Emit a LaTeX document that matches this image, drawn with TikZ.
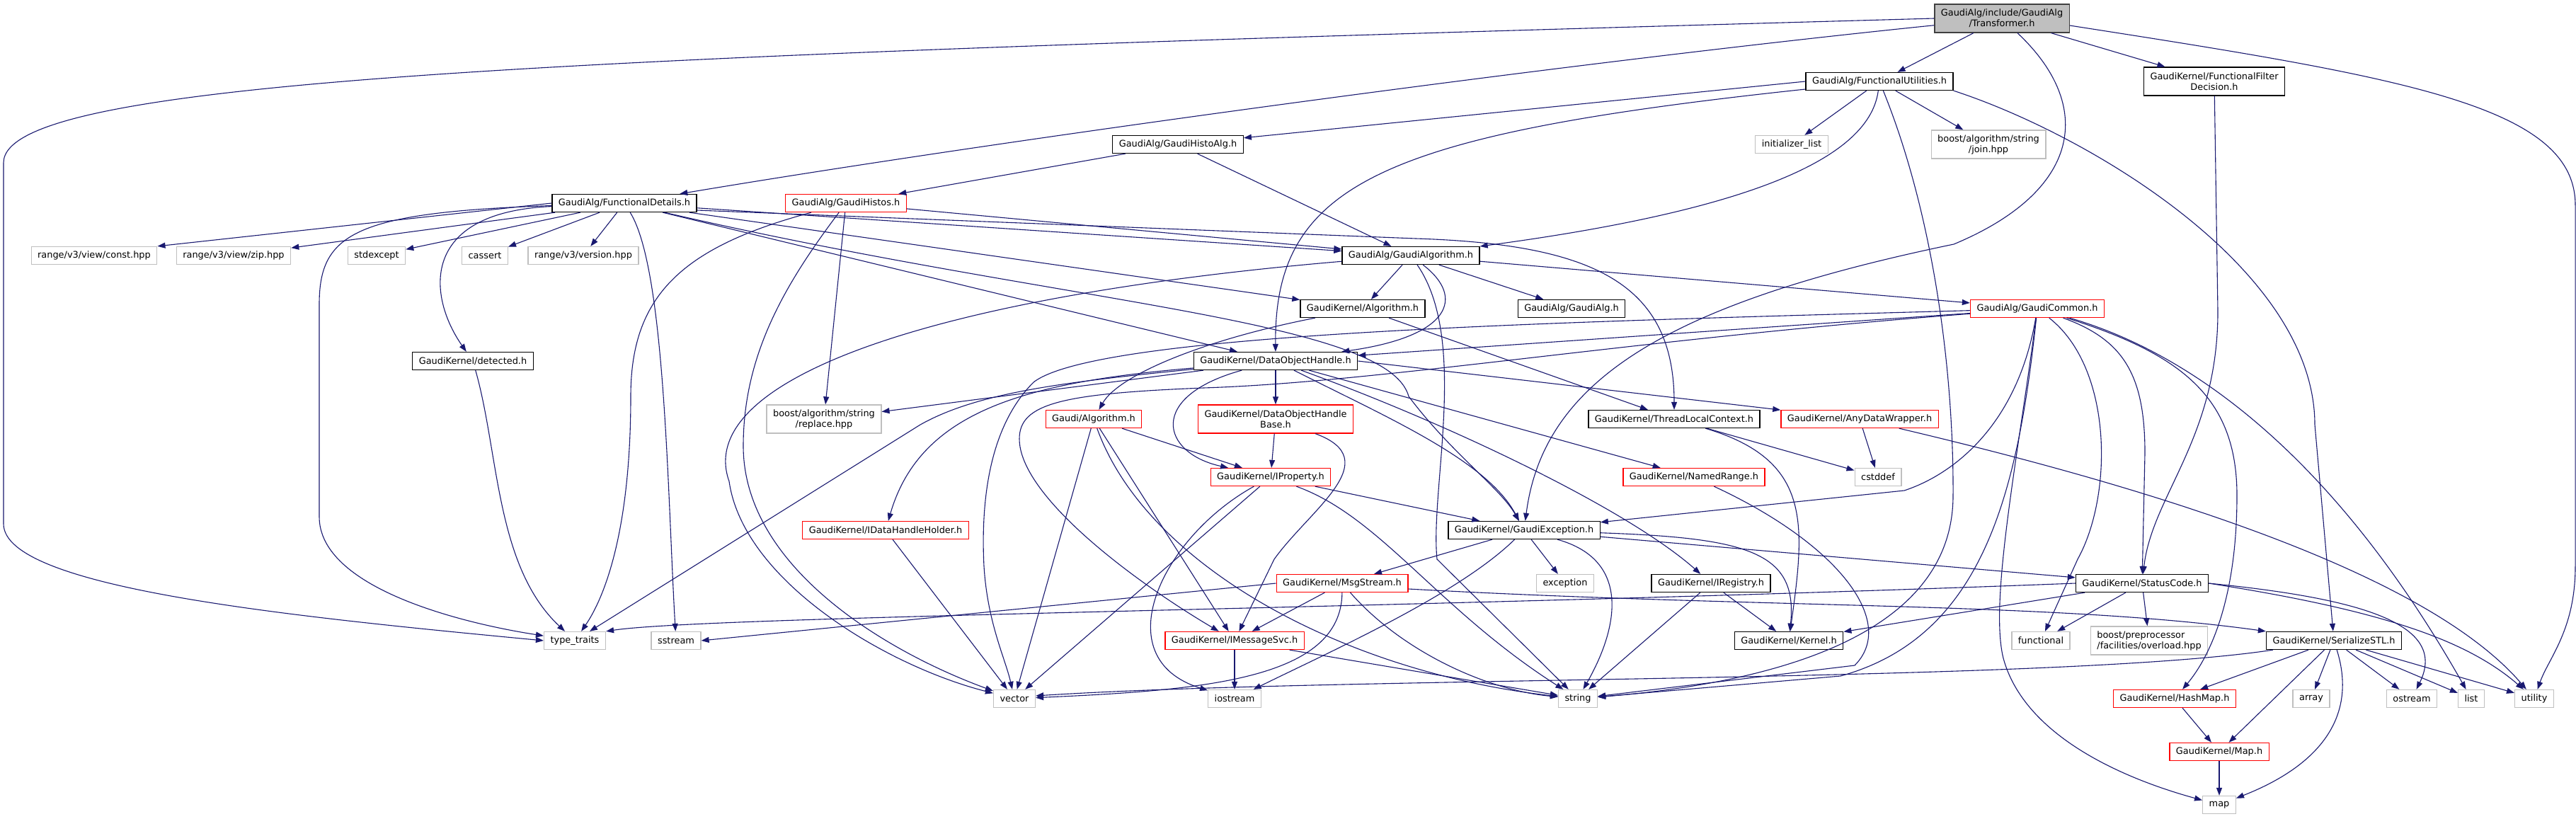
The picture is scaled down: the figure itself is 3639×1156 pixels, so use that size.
\documentclass[tikz,border=0pt]{standalone}
\usepackage{fontspec}
\setmainfont{DejaVu Sans}
\usepackage{tikz}
\usetikzlibrary{positioning}
\usetikzlibrary{calc}
\usetikzlibrary{arrows.meta}
\definecolor{navy}{RGB}{25,25,112}
\definecolor{sysgray}{RGB}{191,191,191}

\begin{document}
\begin{tikzpicture}[x=1pt, y=-1pt,
		>={Triangle[length=11pt,width=8pt]},
		box/.style={draw, line width=1.3pt, inner xsep=9pt, inner ysep=2pt, minimum height=25pt, font=\fontsize{12.9}{15}\selectfont, align=center},
		file/.style={box, draw=black},
		sys/.style={box, draw=sysgray},
		cut/.style={box, draw=red},
		root/.style={box, draw=black!75, fill=sysgray},
		tall/.style={minimum height=40pt},
		dep/.style={->, draw=navy, line width=1.1pt}]
					\useasboundingbox (0,0) rectangle (3639,1156);
					\fill [white] (0,0) rectangle (3639,1156);

					\node [root, tall] (tr) at (2828,26) {GaudiAlg/include/GaudiAlg\\/Transformer.h};
					\node [file] (fu) at (2655,115) {GaudiAlg/FunctionalUtilities.h};
					\node [file, tall] (ffd) at (3128,115) {GaudiKernel/FunctionalFilter\\Decision.h};
					\node [sys] (il) at (2531,204) {initializer\_list};
					\node [sys, tall] (join) at (2809,204) {boost/algorithm/string\\/join.hpp};
					\node [file] (gha) at (1664,204) {GaudiAlg/GaudiHistoAlg.h};
					\node [cut] (gh) at (1195,287) {GaudiAlg/GaudiHistos.h};
					\node [file] (fd) at (882,287) {GaudiAlg/FunctionalDetails.h};
					\node [sys] (cst) at (133,361) {range/v3/view/const.hpp};
					\node [sys] (zip) at (330,361) {range/v3/view/zip.hpp};
					\node [sys] (stdex) at (532,361) {stdexcept};
					\node [sys] (cas) at (685,361) {cassert};
					\node [sys] (ver) at (824,361) {range/v3/version.hpp};
					\node [file] (ga) at (1993,361) {GaudiAlg/GaudiAlgorithm.h};
					\node [file] (alg) at (1925,436) {GaudiKernel/Algorithm.h};
					\node [file] (galg) at (2220,436) {GaudiAlg/GaudiAlg.h};
					\node [cut] (gc) at (2878,436) {GaudiAlg/GaudiCommon.h};
					\node [file] (det) at (668,510) {GaudiKernel/detected.h};
					\node [file] (doh) at (1802,510) {GaudiKernel/DataObjectHandle.h};
					\node [sys, tall] (repl) at (1164,592) {boost/algorithm/string\\/replace.hpp};
					\node [cut] (galgo) at (1545,592) {Gaudi/Algorithm.h};
					\node [cut, tall] (dohb) at (1802,592) {GaudiKernel/DataObjectHandle\\Base.h};
					\node [file] (tlc) at (2365,592) {GaudiKernel/ThreadLocalContext.h};
					\node [cut] (adw) at (2627,592) {GaudiKernel/AnyDataWrapper.h};
					\node [cut] (ip) at (1795,674) {GaudiKernel/IProperty.h};
					\node [cut] (nr) at (2393,674) {GaudiKernel/NamedRange.h};
					\node [sys] (cstd) at (2653,674) {cstddef};
					\node [cut] (idhh) at (1251,749) {GaudiKernel/IDataHandleHolder.h};
					\node [file] (ge) at (2153,749) {GaudiKernel/GaudiException.h};
					\node [cut] (ms) at (1896,824) {GaudiKernel/MsgStream.h};
					\node [sys] (exc) at (2211,824) {exception};
					\node [file] (ireg) at (2417,824) {GaudiKernel/IRegistry.h};
					\node [file] (sc) at (3026,824) {GaudiKernel/StatusCode.h};
					\node [sys] (tt) at (812,905) {type\_traits};
					\node [sys] (ss) at (955,905) {sstream};
					\node [cut] (ims) at (1744,905) {GaudiKernel/IMessageSvc.h};
					\node [file] (kern) at (2527,905) {GaudiKernel/Kernel.h};
					\node [sys] (func) at (2883,905) {functional};
					\node [sys, tall, align=left] (ovl) at (3036,905) {boost/preprocessor\\/facilities/overload.hpp};
					\node [file] (sstl) at (3297,905) {GaudiKernel/SerializeSTL.h};
					\node [sys] (vec) at (1433,987) {vector};
					\node [sys] (ios) at (1744,987) {iostream};
					\node [sys] (str) at (2229,987) {string};
					\node [cut] (hm) at (3072,987) {GaudiKernel/HashMap.h};
					\node [sys] (arr) at (3265,987) {array};
					\node [sys] (ost) at (3407,987) {ostream};
					\node [sys] (lst) at (3491,987) {list};
					\node [sys] (util) at (3580,987) {utility};
					\node [cut] (maph) at (3135,1062) {GaudiKernel/Map.h};
					\node [sys] (mp) at (3135,1137) {map};

					\draw [dep] (tr.west) .. controls (800,80) and (5,110) .. (5,230) -- (5,740) .. controls (5,830) and (400,870) .. (tt.west);
					\draw [dep] (tr) .. controls (2200,90) and (1400,200) .. (fd);
					\draw [dep] (tr) to (fu);
					\draw [dep] (tr) .. controls (2960,150) and (2940,270) .. (2760,345) .. controls (2350,430) and (2180,540) .. (ge);
					\draw [dep] (tr) to (ffd);
					\draw [dep] ($(tr.east)+(0,10)$) .. controls (3400,110) and (3638,150) .. (3638,290) -- (3638,800) .. controls (3638,890) and (3600,930) .. (util);

					\draw [dep] (fu) to (il);
					\draw [dep] (fu) to (join);
					\draw [dep] (fu.west) to (gha);
					\draw [dep] (fu) .. controls (2640,230) and (2450,300) .. (ga);
					\draw [dep] (fu) .. controls (1950,190) and (1800,260) .. (doh);
					\draw [dep] (fu) .. controls (2730,300) and (2760,520) .. (2759,700) .. controls (2759,900) and (2500,965) .. (str);
					\draw [dep] (fu.south east) .. controls (2950,190) and (3270,380) .. (3270,600) -- (sstl);
					\draw [dep] (ffd) -- (3133,440) .. controls (3133,620) and (3040,700) .. (sc);

					\draw [dep] (gha) to (gh);
					\draw [dep] (gha) to (ga);
					\draw [dep] (gh) to (ga);
					\draw [dep] (gh) to (repl);
					\draw [dep] (gh) .. controls (960,350) and (891,420) .. (891,560) .. controls (891,760) and (850,850) .. (tt);
					\draw [dep] (gh) .. controls (1110,400) and (1050,500) .. (1050,630) .. controls (1050,800) and (1250,920) .. (vec);

					\draw [dep] (fd) .. controls (500,300) and (451,330) .. (451,430) -- (451,730) .. controls (451,830) and (650,880) .. (tt);
					\draw [dep] (fd.west) to (cst.north east);
					\draw [dep] (fd) to (zip);
					\draw [dep] (fd) to (stdex);
					\draw [dep] (fd) to (cas);
					\draw [dep] (fd) to (ver);
					\draw [dep] (fd) .. controls (940,380) and (943,700) .. (ss);
					\draw [dep] (fd) .. controls (590,300) and (605,420) .. (det);
					\draw [dep] (fd) to (ga);
					\draw [dep] (fd) to (alg);
					\draw [dep] (fd) to (doh);
					\draw [dep] (fd) .. controls (1500,430) and (1960,450) .. (1990,560) .. controls (2050,640) and (2120,690) .. (ge);
					\draw [dep] ($(fd.east)+(0,10)$) -- (2000,337) .. controls (2250,345) and (2365,400) .. (tlc);
					\draw [dep] (det) .. controls (705,640) and (700,800) .. (tt);

					\draw [dep] (ga) to (alg);
					\draw [dep] (ga) to (galg);
					\draw [dep] (ga) to (gc);
					\draw [dep] (ga) .. controls (2070,420) and (2050,475) .. (doh);
					\draw [dep] (ga) .. controls (1300,420) and (980,540) .. (1030,680) .. controls (1050,820) and (1250,940) .. (vec);
					\draw [dep] (ga) .. controls (2075,480) and (2020,690) .. (2030,790) -- (str);
					\draw [dep] (alg) .. controls (1700,480) and (1580,530) .. (galgo);
					\draw [dep] (alg) to (tlc);

					\draw [dep] (gc) to (doh);
					\draw [dep] (gc) .. controls (2200,455) and (1550,470) .. (1460,540) .. controls (1400,600) and (1385,700) .. (1390,800) .. controls (1395,880) and (1420,930) .. (vec);
					\draw [dep] (gc) .. controls (2300,480) and (1950,540) .. (1700,548) .. controls (1500,556) and (1440,570) .. (1440,620) .. controls (1440,700) and (1600,820) .. (ims);
					\draw [dep] (gc) .. controls (2850,600) and (2760,670) .. (2690,693) -- (ge);
					\draw [dep] (gc) .. controls (2850,700) and (2800,900) .. (2600,955) -- (str);
					\draw [dep] (gc) .. controls (2850,650) and (2810,850) .. (2830,930) .. controls (2860,1040) and (3000,1100) .. (mp);
					\draw [dep] (gc) .. controls (2985,520) and (2985,700) .. (2935,790) -- (func);
					\draw [dep] (gc) .. controls (3000,480) and (3030,530) .. (3030,640) -- (sc);
					\draw [dep] (gc) .. controls (3080,500) and (3160,560) .. (3160,700) .. controls (3160,850) and (3120,930) .. (hm);
					\draw [dep] (gc) .. controls (3100,500) and (3300,650) .. (lst);

					\draw [dep] (doh) to (repl);
					\draw [dep] (doh) .. controls (1500,540) and (1380,555) .. (1300,600) -- (tt);
					\draw [dep] (doh) .. controls (1450,540) and (1300,580) .. (idhh);
					\draw [dep] (doh) to (dohb);
					\draw [dep] (doh) .. controls (1620,560) and (1640,640) .. (ip);
					\draw [dep] (doh) to (nr);
					\draw [dep] (doh) .. controls (1960,590) and (2100,650) .. (ge);
					\draw [dep] (doh) .. controls (2050,600) and (2300,720) .. (ireg);
					\draw [dep] (doh.east) to (adw);

					\draw [dep] (galgo) to (vec);
					\draw [dep] (galgo) to (ims);
					\draw [dep] (galgo) .. controls (1620,800) and (1900,950) .. (str);
					\draw [dep] (galgo) to (ip);
					\draw [dep] (dohb) to (ip);
					\draw [dep] (dohb) .. controls (1960,650) and (1850,720) .. (1800,790) -- (ims);
					\draw [dep] (tlc) to (cstd);
					\draw [dep] (tlc) .. controls (2560,650) and (2550,740) .. (kern);
					\draw [dep] (adw) to (cstd);
					\draw [dep] (adw) .. controls (3000,680) and (3420,800) .. (util);

					\draw [dep] (ip) to (ge);
					\draw [dep] (ip) to (vec);
					\draw [dep] (ip) .. controls (1640,760) and (1560,930) .. (ios);
					\draw [dep] (ip) .. controls (1950,730) and (2030,860) .. (str);
					\draw [dep] (nr) .. controls (2600,770) and (2680,880) .. (2620,940) -- (str);
					\draw [dep] (idhh) to (vec);

					\draw [dep] (ge) to (ms);
					\draw [dep] (ge) .. controls (2060,840) and (1880,920) .. (ios);
					\draw [dep] (ge) to (exc);
					\draw [dep] (ge) .. controls (2300,790) and (2290,880) .. (str);
					\draw [dep] (ge) .. controls (2470,760) and (2540,780) .. (kern);
					\draw [dep] (ge) to (sc);

					\draw [dep] (ms) to (ims);
					\draw [dep] (ms) .. controls (1895,960) and (1700,975) .. (vec);
					\draw [dep] (ms) .. controls (1980,920) and (2100,975) .. (str);
					\draw [dep] (ms.west) to (ss.east);
					\draw [dep] ($(ms.east)+(0,8)$) .. controls (2500,860) and (2900,850) .. (sstl.north west);
					\draw [dep] (ireg) to (str);
					\draw [dep] (ireg) to (kern);

					\draw [dep] (sc.west) .. controls (2000,860) and (1000,870) .. (tt.north east);
					\draw [dep] (sc) to (kern);
					\draw [dep] (sc) to (func);
					\draw [dep] (sc) to (ovl);
					\draw [dep] (sc.east) .. controls (3330,845) and (3460,880) .. (ost);
					\draw [dep] (sc.east) .. controls (3350,860) and (3480,900) .. (util);

					\draw [dep] (ims) to (ios);
					\draw [dep] (ims) to (str);
					\draw [dep] (sstl) to (hm);
					\draw [dep] (sstl) to (maph);
					\draw [dep] (sstl) to (arr);
					\draw [dep] (sstl) .. controls (3330,1010) and (3280,1080) .. (mp);
					\draw [dep] (sstl) to (ost);
					\draw [dep] (sstl) to (lst);
					\draw [dep] (sstl) to (util);
					\draw [dep] ($(sstl.south west)+(10,0)$) .. controls (2900,965) and (1900,955) .. ($(vec.east)+(0,-4)$);
					\draw [dep] (hm) to (maph);
					\draw [dep] (maph) to (mp);
				\end{tikzpicture}
\end{document}
